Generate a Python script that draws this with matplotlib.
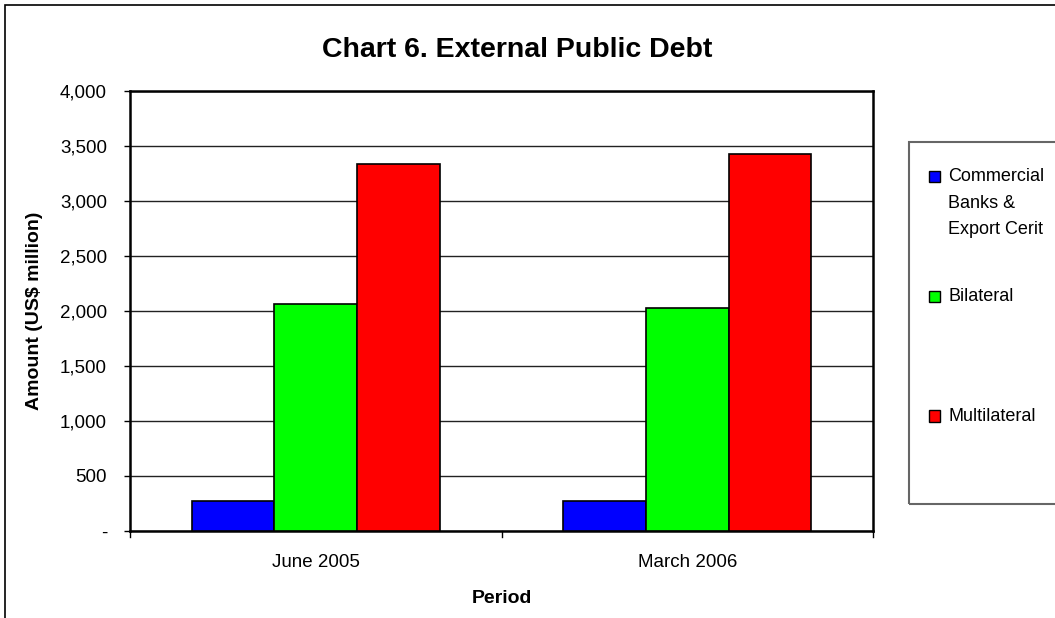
import matplotlib
matplotlib.use("Agg")
import matplotlib.pyplot as plt
import numpy as np
from matplotlib.patches import Rectangle
from matplotlib.ticker import FuncFormatter

categories = ["June 2005", "March 2006"]
series_names = ["Commercial\nBanks &\nExport Cerit", "Bilateral", "Multilateral"]
commercial = [275, 272]
bilateral = [2065, 2025]
multilateral = [3340, 3428]
series_values = [commercial, bilateral, multilateral]
colors = ["#0000FF", "#00FF00", "#FF0000"]
y_ticks = [0, 500, 1000, 1500, 2000, 2500, 3000, 3500, 4000]

plt.rcParams['font.family'] = ['Liberation Sans', 'DejaVu Sans']

W, H = 1055, 618
fig = plt.figure(figsize=(W / 100, H / 100), dpi=100)

def fx(px):
    return px / W

def fy(py):
    return 1 - py / H

ax = fig.add_axes([fx(130), fy(531), fx(873) - fx(130), fy(91) - fy(531)])

n = len(series_values)
gap = 1.5
bw = 1.0 / (n + gap)
x = np.arange(len(categories))
for i, (vals, c) in enumerate(zip(series_values, colors)):
    offs = (i - (n - 1) / 2) * bw
    ax.bar(x + offs, vals, width=bw, color=c, edgecolor="black", linewidth=1.2, zorder=3)

ax.set_xlim(-0.5, len(categories) - 0.5)
ax.set_ylim(0, 4000)
ax.set_yticks(y_ticks)
ax.yaxis.set_major_formatter(FuncFormatter(lambda v, p: "-" if v == 0 else f"{int(v):,}"))
ax.set_xticks(x)
ax.set_xticklabels(categories)
ax.xaxis.set_ticks_position('none')
for xb in np.arange(-0.5, len(categories), 1.0):
    ax.plot([xb, xb], [0, -0.013], transform=ax.get_xaxis_transform(), color="black",
            linewidth=1, clip_on=False)
ax.tick_params(axis='y', direction='out', length=4.5, width=1, labelsize=13.5, pad=12)
ax.tick_params(axis='x', labelsize=13.5, pad=13)
ax.grid(axis='y', color="#222222", linewidth=1, zorder=0)
for s in ax.spines.values():
    s.set_linewidth(1.8)
    s.set_color("black")

ax.set_ylabel("Amount (US$ million)", fontsize=14, fontweight="bold", labelpad=12)
ax.set_xlabel("Period", fontsize=14, fontweight="bold", labelpad=14)

fig.text(fx(517), fy(50), "Chart 6. External Public Debt", fontsize=20.5, fontweight="bold",
         ha="center", va="center")

# outer chart border (extends beyond the cropped edges)
fig.patches.append(Rectangle((fx(5), fy(640)), fx(1100) - fx(5), fy(5) - fy(640),
                             transform=fig.transFigure, fill=False, edgecolor="black",
                             linewidth=1.2))

# legend box
fig.patches.append(Rectangle((fx(909), fy(504)), fx(1100) - fx(909), fy(142) - fy(504),
                             transform=fig.transFigure, fill=False, edgecolor="#666666",
                             linewidth=1.5))
entry_y = [176, 296, 416]
for name, c, yy in zip(series_names, colors, entry_y):
    fig.patches.append(Rectangle((fx(929), fy(yy + 5.5)), fx(940) - fx(929), fy(yy - 5.5) - fy(yy + 5.5),
                                 transform=fig.transFigure, facecolor=c, edgecolor="black",
                                 linewidth=1))
    fig.text(fx(948), fy(yy - 8), name, fontsize=13, ha="left", va="top",
             linespacing=1.75)

fig.savefig("out.png", dpi=100)
